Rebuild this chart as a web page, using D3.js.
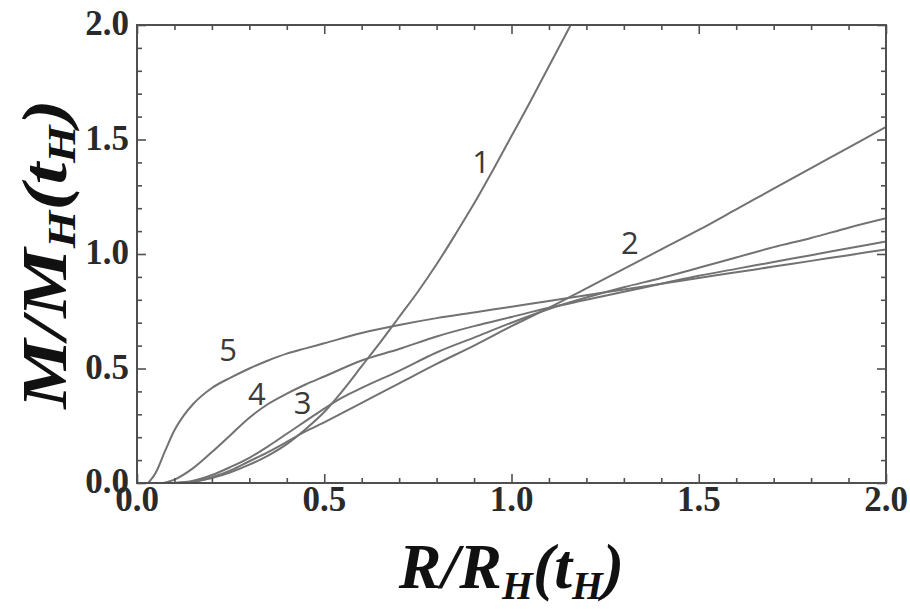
<!DOCTYPE html>
<html>
<head>
<meta charset="utf-8">
<script src="https://cdn.jsdelivr.net/npm/d3@7"></script>
<style>
  html, body { margin: 0; padding: 0; background: #fff; }
  svg { display: block; }
</style>
</head>
<body>
<svg id="chart" width="910" height="609"></svg>
<script>
// Mass profiles M/M_H(t_H) against radius R/R_H(t_H), five cases
const r1 = [0.10, 0.15, 0.20, 0.25, 0.30, 0.35, 0.40, 0.45, 0.50, 0.55, 0.60, 0.65, 0.70, 0.75, 0.80, 0.85, 0.90, 0.95, 1.00, 1.05, 1.10, 1.15, 1.20];
const m1 = [0.00, 0.006, 0.022, 0.047, 0.08, 0.12, 0.17, 0.235, 0.31, 0.405, 0.51, 0.615, 0.725, 0.835, 0.955, 1.085, 1.22, 1.365, 1.515, 1.665, 1.82, 1.975, 2.13];

const r2 = [0.10, 0.15, 0.20, 0.25, 0.30, 0.35, 0.40, 0.45, 0.50, 0.60, 0.70, 0.80, 0.90, 1.00, 1.10, 1.20, 1.30, 1.40, 1.50, 1.60, 1.70, 1.80, 1.90, 2.00];
const m2 = [0.00, 0.005, 0.025, 0.055, 0.095, 0.135, 0.18, 0.225, 0.265, 0.35, 0.435, 0.52, 0.60, 0.685, 0.765, 0.85, 0.935, 1.02, 1.105, 1.195, 1.285, 1.375, 1.465, 1.555];

const r3 = [0.10, 0.15, 0.20, 0.25, 0.30, 0.35, 0.40, 0.45, 0.50, 0.55, 0.60, 0.70, 0.80, 0.90, 1.00, 1.10, 1.20, 1.30, 1.40, 1.50, 1.60, 1.70, 1.80, 1.90, 2.00];
const m3 = [0.00, 0.01, 0.035, 0.07, 0.11, 0.16, 0.215, 0.27, 0.325, 0.375, 0.415, 0.49, 0.57, 0.635, 0.70, 0.76, 0.81, 0.855, 0.895, 0.94, 0.985, 1.03, 1.07, 1.115, 1.156];

const r4 = [0.07, 0.10, 0.15, 0.20, 0.25, 0.30, 0.35, 0.40, 0.45, 0.50, 0.60, 0.70, 0.80, 0.90, 1.00, 1.10, 1.20, 1.30, 1.40, 1.50, 1.60, 1.70, 1.80, 1.90, 2.00];
const m4 = [0.00, 0.015, 0.065, 0.135, 0.21, 0.285, 0.345, 0.39, 0.43, 0.465, 0.535, 0.585, 0.64, 0.685, 0.725, 0.765, 0.80, 0.835, 0.87, 0.905, 0.935, 0.965, 0.995, 1.025, 1.055];

const r5 = [0.03, 0.05, 0.075, 0.10, 0.125, 0.15, 0.20, 0.25, 0.30, 0.35, 0.40, 0.45, 0.50, 0.60, 0.70, 0.80, 0.90, 1.00, 1.10, 1.20, 1.30, 1.40, 1.50, 1.60, 1.70, 1.80, 1.90, 2.00];
const m5 = [0.00, 0.045, 0.14, 0.23, 0.295, 0.345, 0.415, 0.46, 0.50, 0.535, 0.565, 0.588, 0.61, 0.655, 0.69, 0.72, 0.745, 0.77, 0.795, 0.82, 0.845, 0.87, 0.895, 0.92, 0.945, 0.97, 0.995, 1.02];

// Curve number labels and where they sit (data coordinates)
const curveLabels = ["1", "2", "3", "4", "5"];
const labelR = [0.919, 1.316, 0.442, 0.32, 0.243];
const labelM = [1.404, 1.048, 0.348, 0.39, 0.581];

const xTicks = [0.0, 0.5, 1.0, 1.5, 2.0];
const yTicks = [0.0, 0.5, 1.0, 1.5, 2.0];

const series = [[r1, m1], [r2, m2], [r3, m3], [r4, m4], [r5, m5]];

const svg = d3.select("#chart");
const W = 910, H = 609;
const margin = { left: 137, top: 25, right: W - 886, bottom: H - 483 };
const x = d3.scaleLinear().domain([0, 2]).range([margin.left, W - margin.right]);
const y = d3.scaleLinear().domain([0, 2]).range([H - margin.bottom, margin.top]);

const frameColor = "#505050";
const curveColor = "#727272";

// Clip the curves to the plotting frame
svg.append("clipPath").attr("id", "plotClip")
  .append("rect")
  .attr("x", x(0)).attr("y", y(2))
  .attr("width", x(2) - x(0)).attr("height", y(0) - y(2));

const line = d3.line()
  .x(d => x(d[0]))
  .y(d => y(d[1]))
  .curve(d3.curveMonotoneX);

svg.append("g").attr("clip-path", "url(#plotClip)")
  .selectAll("path")
  .data(series.map(([rs, ms]) => rs.map((r, i) => [r, ms[i]])))
  .join("path")
  .attr("d", line)
  .attr("fill", "none")
  .attr("stroke", curveColor)
  .attr("stroke-width", 2);

// Axes with inward ticks; minor ticks every 0.1, major every 0.5
const minor = d3.range(0, 2.0001, 0.1);
const isMajor = v => Math.abs(v * 2 - Math.round(v * 2)) < 1e-6;
const majorLen = 9, minorLen = 5;

const gB = svg.append("g").attr("transform", `translate(0,${y(0)})`)
  .call(d3.axisBottom(x).tickValues(minor).tickSizeInner(0).tickSizeOuter(0).tickFormat(""));
gB.selectAll(".tick line").attr("y2", d => -(isMajor(d) ? majorLen : minorLen));

const gT = svg.append("g").attr("transform", `translate(0,${y(2)})`)
  .call(d3.axisTop(x).tickValues(minor).tickSizeInner(0).tickSizeOuter(0).tickFormat(""));
gT.selectAll(".tick line").attr("y2", d => (isMajor(d) ? majorLen : minorLen));

const gL = svg.append("g").attr("transform", `translate(${x(0)},0)`)
  .call(d3.axisLeft(y).tickValues(minor).tickSizeInner(0).tickSizeOuter(0).tickFormat(""));
gL.selectAll(".tick line").attr("x2", d => (isMajor(d) ? majorLen : minorLen));

const gR = svg.append("g").attr("transform", `translate(${x(2)},0)`)
  .call(d3.axisRight(y).tickValues(minor).tickSizeInner(0).tickSizeOuter(0).tickFormat(""));
gR.selectAll(".tick line").attr("x2", d => -(isMajor(d) ? majorLen : minorLen));

svg.selectAll(".domain").remove();
svg.selectAll(".tick line").attr("stroke", frameColor).attr("stroke-width", 1.6);

// frame
svg.append("rect")
  .attr("x", x(0)).attr("y", y(2))
  .attr("width", x(2) - x(0)).attr("height", y(0) - y(2))
  .attr("fill", "none").attr("stroke", frameColor).attr("stroke-width", 2);

// tick labels
const serif = "'Liberation Serif', 'DejaVu Serif', serif";
svg.append("g").selectAll("text").data(xTicks).join("text")
  .attr("x", d => x(d)).attr("y", y(0) + 28)
  .attr("text-anchor", "middle")
  .attr("font-family", serif).attr("font-weight", "bold")
  .attr("font-size", 35).attr("fill", "#2a2a2a")
  .text(d => d.toFixed(1));
svg.append("g").selectAll("text").data(yTicks).join("text")
  .attr("x", x(0) - 8).attr("y", d => y(d) + 10)
  .attr("text-anchor", "end")
  .attr("font-family", serif).attr("font-weight", "bold")
  .attr("font-size", 35).attr("fill", "#2a2a2a")
  .text(d => d.toFixed(1));

// axis titles with subscripts
function title(sel, parts, drop) {
  parts.forEach(p => {
    const t = sel.append("tspan").text(p.t);
    if (p.sub) t.attr("font-size", "62%").attr("dy", drop + "em");
    if (p.back) t.attr("dy", (-drop * 0.62) + "em");
  });
}
const xt = svg.append("text")
  .attr("x", (x(0) + x(2)) / 2).attr("y", 588)
  .attr("text-anchor", "middle")
  .attr("font-family", serif).attr("font-weight", "bold").attr("font-style", "italic")
  .attr("font-size", 64).attr("fill", "#111");
title(xt, [{ t: "R/R" }, { t: "H", sub: true }, { t: "(t", back: true }, { t: "H", sub: true }, { t: ")", back: true }], 0.28);

// vertical title: drawn a little elongated along its length
const yt = svg.append("text")
  .attr("transform", `translate(66,${(y(0) + y(2)) / 2}) rotate(-90) scale(1.22,1)`)
  .attr("text-anchor", "middle")
  .attr("font-family", serif).attr("font-weight", "bold").attr("font-style", "italic")
  .attr("font-size", 64).attr("fill", "#111");
title(yt, [{ t: "M/M" }, { t: "H", sub: true }, { t: "(t", back: true }, { t: "H", sub: true }, { t: ")", back: true }], 0.22);

// curve number labels
svg.append("g").selectAll("text").data(curveLabels).join("text")
  .attr("x", (d, i) => x(labelR[i])).attr("y", (d, i) => y(labelM[i]))
  .attr("dy", "0.36em")
  .attr("text-anchor", "middle")
  .attr("font-family", "'Open Sans', 'Liberation Sans', sans-serif")
  .attr("font-size", 31).attr("fill", "#3a3a3a")
  .text(d => d);
</script>
</body>
</html>
